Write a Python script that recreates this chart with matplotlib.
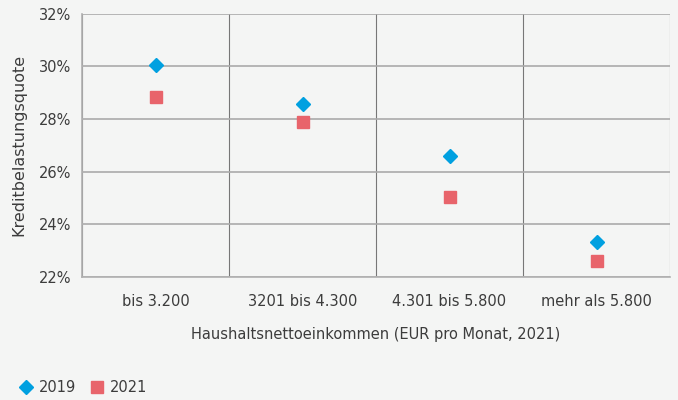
#!/usr/bin/env python3

'''Kreditbelastungsquote nach Haushaltsnettoeinkommen, 2019 vs 2021.'''

import numpy as np
import matplotlib as mpl
import matplotlib.pyplot as plt
from matplotlib.lines import Line2D

categories = ['bis 3.200', '3201 bis 4.300', '4.301 bis 5.800', 'mehr als 5.800']
quote_2019 = [30.06, 28.55, 26.6, 23.33]
quote_2021 = [28.83, 27.88, 25.02, 22.62]
y_ticks = [22, 24, 26, 28, 30, 32]

BG = '#f4f5f4'
BLUE = '#00a0e0'
RED = '#e8646b'
TEXT = '#3c3c3c'


def do_plotting(savefig='out.png', fontsize=10.5, dpi=100, l=678, w=400):
    '''Scatter with category grid.'''

    mpl.rcParams['font.family'] = ['DejaVu Sans']

    fig = plt.figure(figsize=(l / dpi, w / dpi), dpi=dpi, facecolor=BG)
    ax = fig.add_axes([82 / l, 1 - 277 / w, 588 / l, 263.5 / w])
    ax.set_facecolor(BG)

    x = np.arange(len(categories))
    ax.plot(x, quote_2019, marker='D', ms=7.6, ls='None', color=BLUE, zorder=3)
    ax.plot(x, quote_2021, marker='s', ms=8.5, ls='None', color=RED, zorder=3)

    ax.set_xlim(-0.5, len(categories) - 0.5)
    ax.set_ylim(22, 32)
    ax.set_yticks(y_ticks)
    ax.set_yticklabels([f'{t}%' for t in y_ticks])
    ax.set_xticks(x)
    ax.set_xticklabels(categories)
    ax.set_xticks(np.arange(len(categories) + 1) - 0.5, minor=True)

    ax.grid(axis='y', which='major', color='#aaaaaa', lw=1.2)
    ax.grid(axis='x', which='minor', color='#777777', lw=0.8)
    ax.grid(axis='x', which='major', visible=False)
    ax.set_axisbelow(True)

    ax.tick_params(which='both', length=0, labelsize=fontsize, colors=TEXT, pad=8)
    ax.tick_params(axis='x', pad=12)
    for side in ['top', 'right']:
        ax.spines[side].set_visible(False)
    for side in ['left', 'bottom']:
        ax.spines[side].set_color('#b0b0b0')
        ax.spines[side].set_linewidth(1.2)

    ax.set_xlabel('Haushaltsnettoeinkommen (EUR pro Monat, 2021)',
                  fontsize=fontsize, color=TEXT, labelpad=13)
    ax.set_ylabel('Kreditbelastungsquote', fontsize=11.5, color=TEXT,
                  labelpad=9)

    handles = [
        Line2D([], [], marker='D', ms=7.6, ls='None', color=BLUE, label='2019'),
        Line2D([], [], marker='s', ms=8.5, ls='None', color=RED, label='2021'),
    ]
    fig.legend(handles=handles, loc='lower left', bbox_to_anchor=(0.006, -0.02),
               ncol=2, frameon=False, fontsize=fontsize, labelcolor=TEXT,
               handletextpad=0.3, columnspacing=0.8, handlelength=1.2)

    plt.savefig(savefig, dpi=dpi, facecolor=BG)
    plt.close()


def main():
    do_plotting()


if __name__ == '__main__':
    main()
